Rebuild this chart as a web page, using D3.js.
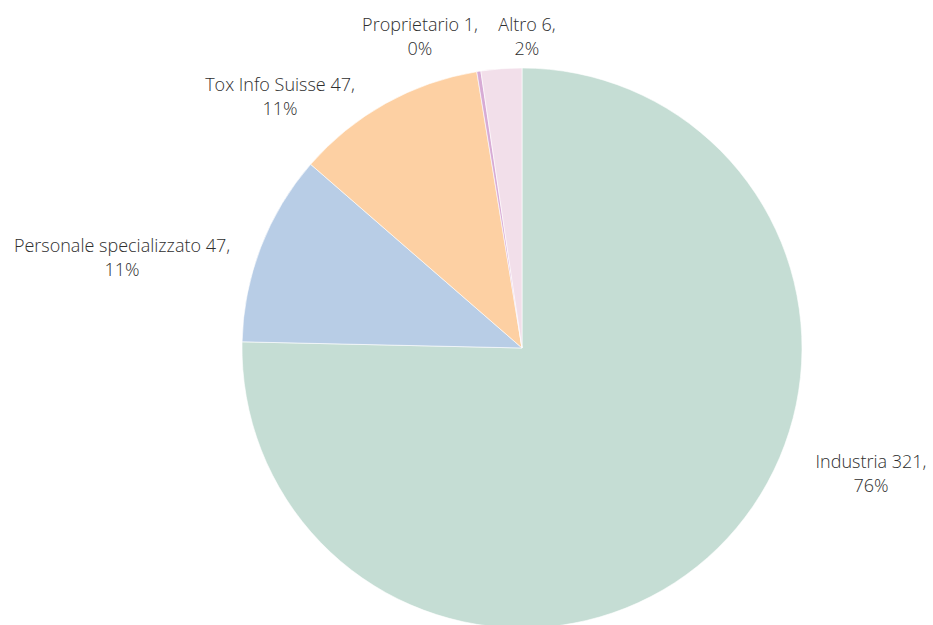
<!DOCTYPE html>
<html>
<head>
<meta charset="utf-8">
<script src="https://cdn.jsdelivr.net/npm/d3@7"></script>
<style>
  html, body { margin: 0; padding: 0; background: #fff; }
  svg { display: block; }
  text { font-family: "Open Sans", "Noto Sans", sans-serif; font-size: 18px; font-weight: 300; fill: #2e2e2e; }
</style>
</head>
<body>
<svg id="chart" width="933" height="625"></svg>
<script>
// data
var categories = ["Industria", "Personale specializzato", "Tox Info Suisse", "Proprietario", "Altro"];
// slice sizes as drawn in the picture
var sliceValues = [321, 47, 47, 1, 10];
// numbers and shares as printed in the labels
var labelCounts = [321, 47, 47, 1, 6];
var labelPercents = ["76%", "11%", "11%", "0%", "2%"];
var colors = ["#c5ddd4", "#b8cde6", "#fdd0a3", "#d7abd5", "#f2dfea"];

// label layout: first-line baseline offset from pie centre
var labelOffsets = [[349, 120], [-400, -96], [-242, -257], [-102, -317], [5, -317]];

var svg = d3.select("#chart");
var cx = 522, cy = 348, radius = 280;

var pie = d3.pie().sort(null).value(function (d) { return d; });
var arc = d3.arc().innerRadius(0).outerRadius(radius);
var arcs = pie(sliceValues);

var g = svg.append("g").attr("transform", "translate(" + cx + "," + cy + ")");

g.selectAll("path.slice")
    .data(arcs)
    .enter().append("path")
    .attr("class", "slice")
    .attr("d", arc)
    .attr("fill", function (d, i) { return colors[i]; })
    .attr("stroke", "#fff")
    .attr("stroke-width", 0.6);

var labels = g.selectAll("text.lbl")
    .data(arcs)
    .enter().append("text")
    .attr("class", "lbl")
    .attr("text-anchor", "middle")
    .attr("transform", function (d, i) {
        return "translate(" + labelOffsets[i][0] + "," + labelOffsets[i][1] + ")";
    });
labels.append("tspan")
    .attr("x", 0).attr("y", 0)
    .text(function (d, i) { return categories[i] + " " + labelCounts[i] + ","; });
labels.append("tspan")
    .attr("x", 0).attr("y", 24)
    .text(function (d, i) { return labelPercents[i]; });
</script>
</body>
</html>
